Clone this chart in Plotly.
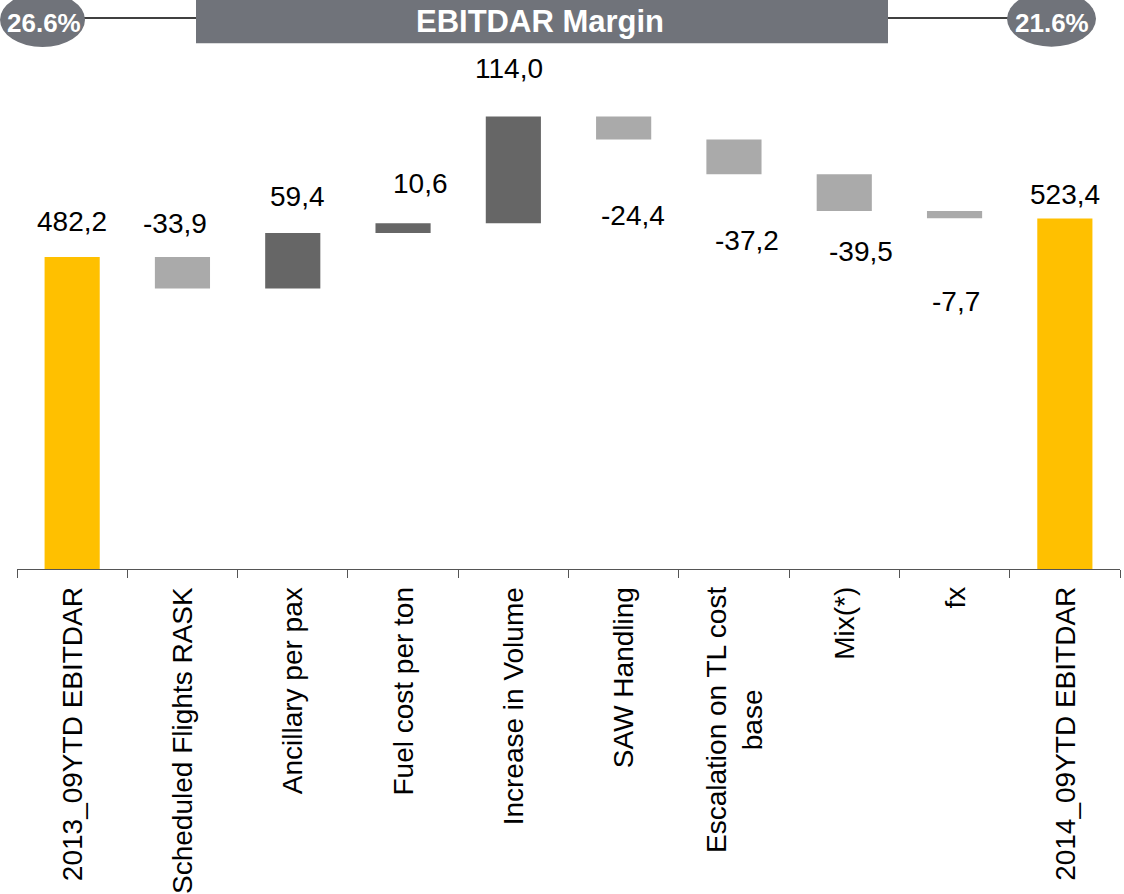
import plotly.graph_objects as go

# ---- data -------------------------------------------------------------
categories = [
    "2013_09YTD EBITDAR",
    "Scheduled Flights RASK",
    "Ancillary per pax",
    "Fuel cost per ton",
    "Increase in Volume",
    "SAW Handling",
    "Escalation on TL cost<br>base",
    "Mix(*)",
    "fx",
    "2014_09YTD EBITDAR",
]
values = [482.2, -33.9, 59.4, 10.6, 114.0, -24.4, -37.2, -39.5, -7.7, 523.4]
measures = ["absolute"] + ["relative"] * 8 + ["absolute"]
margin_start = "26.6%"
margin_end = "21.6%"
header_title = "EBITDAR Margin"

# ---- styling ------------------------------------------------------------
FONT = "Liberation Sans, Arial, sans-serif"
YELLOW = "#FFC000"
DARK = "#666666"
LIGHT = "#AAAAAA"
HEADER = "#70737A"

W, H = 1124, 894
ML, MR, MT, MB = 17, 4, 0, 325
PW, PH = W - ML - MR, H - MT - MB

# label offsets (pixels) relative to the top of each bar
label_dy = [33.7, 31.7, 35.2, 37.7, 46.8, -100.7, -102.5, -78.4, -91.7, 22.7]
label_dx = [0, -7.5, 5, 17.5, -4.5, 9, 12.7, 17, 1.7, 0]


def px(xp):
    return (xp - ML) / PW


def py(yp):
    return (H - MB - yp) / PH


fig = go.Figure(
    go.Waterfall(
        x=categories,
        y=values,
        measure=measures,
        increasing=dict(marker=dict(color=DARK)),
        decreasing=dict(marker=dict(color=LIGHT)),
        totals=dict(marker=dict(color=YELLOW)),
        connector=dict(visible=False),
        hoverinfo="skip",
    )
)

# bar tops from the running total
tops = []
running = 0.0
for v, m in zip(values, measures):
    if m == "absolute":
        running = v
        tops.append(v)
    else:
        start = running
        running += v
        tops.append(max(start, running))

annotations = []
for cat, v, top, dy, dx in zip(categories, values, tops, label_dy, label_dx):
    annotations.append(dict(
        x=cat, y=top, xref="x", yref="y",
        text=f"{v:.1f}".replace(".", ","),
        showarrow=False, yanchor="middle", xanchor="center",
        yshift=dy + 1.5, xshift=dx,
        font=dict(family=FONT, size=28, color="#000000"),
    ))

# category labels, rotated, hanging under the axis
for cat in categories:
    annotations.append(dict(
        x=cat, y=0, xref="x", yref="paper",
        text=cat, textangle=-90, align="center",
        showarrow=False, yanchor="top", xanchor="center", yshift=-16,
        font=dict(family=FONT, size=28, color="#000000"),
    ))

# margin header texts
annotations += [
    dict(x=px(540), y=py(21.5), xref="paper", yref="paper", text=f"<b>{header_title}</b>",
         showarrow=False, xanchor="center", yanchor="middle",
         font=dict(family=FONT, size=31, color="white")),
    dict(x=px(44), y=py(23), xref="paper", yref="paper", text=f"<b>{margin_start}</b>",
         showarrow=False, xanchor="center", yanchor="middle",
         font=dict(family=FONT, size=26, color="white")),
    dict(x=px(1052), y=py(23), xref="paper", yref="paper", text=f"<b>{margin_end}</b>",
         showarrow=False, xanchor="center", yanchor="middle",
         font=dict(family=FONT, size=26, color="white")),
]

shapes = [
    dict(type="line", xref="paper", yref="paper", x0=px(84), x1=px(196), y0=py(18), y1=py(18),
         line=dict(color="#000000", width=1.5), layer="below"),
    dict(type="line", xref="paper", yref="paper", x0=px(888), x1=px(1008), y0=py(18), y1=py(18),
         line=dict(color="#000000", width=1.5), layer="below"),
    dict(type="rect", xref="paper", yref="paper", x0=px(196), x1=px(888), y0=py(43.3), y1=py(-2),
         fillcolor=HEADER, line=dict(width=0)),
    dict(type="circle", xref="paper", yref="paper", x0=px(0), x1=px(85), y0=py(47), y1=py(-7.6),
         fillcolor=HEADER, line=dict(width=0)),
    dict(type="circle", xref="paper", yref="paper", x0=px(1007), x1=px(1096), y0=py(46.7), y1=py(-9),
         fillcolor=HEADER, line=dict(width=0)),
]

fig.update_layout(
    width=W, height=H,
    margin=dict(l=ML, r=MR, t=MT, b=MB),
    paper_bgcolor="white", plot_bgcolor="white",
    showlegend=False,
    waterfallgap=0.5,
    annotations=annotations,
    shapes=shapes,
    xaxis=dict(
        showticklabels=False, showgrid=False, zeroline=False,
        ticks="outside", tickson="boundaries", ticklen=8, tickcolor="#555555",
        showline=True, linecolor="#555555", linewidth=1,
    ),
    yaxis=dict(visible=False, range=[148.4, 757.0], showgrid=False, zeroline=False),
)

fig.write_html("out.html", config={"displayModeBar": False})
